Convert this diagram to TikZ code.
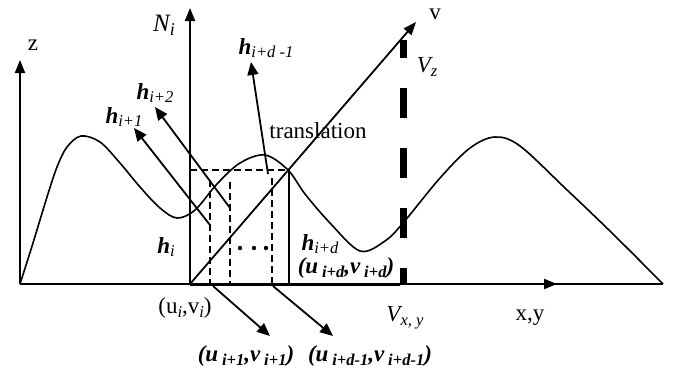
\documentclass[tikz,border=0pt]{standalone}
\usepackage{fontspec}
\usepackage{graphicx}
\setmainfont{Liberation Serif}
\usetikzlibrary{arrows.meta}
\newcommand{\lo}[1]{\raisebox{-0.35ex}{\scalebox{0.72}{#1}}}
\newcommand{\hv}[1]{{\bfseries\itshape h}\lo{\itshape #1}}
\newcommand{\bp}[2]{{\bfseries\itshape (u\,\lo{#1},v\,\lo{#2})}}
\begin{document}
\begin{tikzpicture}[x=1pt,y=-1pt,
  ax/.style={line width=2pt,-{Triangle[length=13pt,width=10pt]}},
  nv/.style={line width=1.8pt,-{Triangle[length=13pt,width=11pt]}},
  crv/.style={line width=1.6pt},
  dsh/.style={line width=1.8pt,dash pattern=on 7pt off 4pt},
  lab/.style={font=\fontsize{23}{26}\selectfont,inner sep=0pt},
  blab/.style={font=\fontsize{23}{26}\selectfont,inner sep=0pt}]
\useasboundingbox (0,0) rectangle (674,376);
% base points
\coordinate (O) at (20,284);
\coordinate (U) at (190,284);
\coordinate (E) at (663,284);
\coordinate (Xa) at (557,284);
\coordinate (Zt) at (20,60);
\coordinate (Nt) at (190,8);
\coordinate (Vt) at (416,22);
% baseline
\draw[line width=2pt] (O) -- (E);
\draw[line width=2pt,-{Triangle[length=13pt,width=10pt]}] (O) -- (Xa);
\draw[line width=3pt] (U) -- (400,284);
% axes
\draw[ax] (O) -- (Zt);
\draw[ax] (U) -- (Nt);
\draw[line width=1.8pt,-{Triangle[length=13pt,width=10pt]}] (U) -- (Vt);
% V_z thick dashed
\draw[line width=7pt,dash pattern=on 30pt off 30pt,dash phase=12pt] (403,40) -- (403,284);
% curve
\draw[crv] plot[smooth,tension=0.55] coordinates {(20,284) (33,243) (47,197) (57,167) (67,147) (81,136) (100,142) (120,163) (140,187) (160,208) (177,218) (195,210) (217,184) (240,163) (265,155) (288,170) (305,194) (330,223) (360,251) (385,241) (403,223) (440,178) (470,148) (495,137) (520,146) (565,188) (613,234) (663,284)};
% dashed construction
\draw[dsh] (190,170) -- (286,170);
\draw[dsh] (210,180) -- (210,284);
\draw[dsh] (230,182) -- (230,284);
\draw[dsh] (272,178) -- (272,284);
\foreach \px in {240,254,266} \fill (\px,248) circle (2.2pt);
% solid vertical at u_{i+d}
\draw[line width=2pt] (289,170) -- (289,284);
% normal vectors
\coordinate (b1) at (210,225); \coordinate (t1) at (134,128);
\coordinate (b2) at (230,208); \coordinate (t2) at (155,107);
\coordinate (b3) at (268,174); \coordinate (t3) at (251,62);
\draw[nv] (b1) -- (t1);
\draw[nv] (b2) -- (t2);
\draw[nv] (b3) -- (t3);
% lower arrows
\coordinate (c1) at (213,286); \coordinate (d1) at (270,336);
\coordinate (c2) at (273,286); \coordinate (d2) at (333,336);
\draw[nv] (c1) -- (d1);
\draw[nv] (c2) -- (d2);
% labels
\node[lab] (lz) at (33,45) {z};
\node[lab,font=\fontsize{25}{28}\selectfont] (lN) at (164,25) {\itshape N\lo{i}};
\node[blab] (lh3) at (266,48) {\hv{i+d -1}};
\node[blab] (lh2) at (155,93) {\hv{i+2}};
\node[blab] (lh1) at (124,117) {\hv{i+1}};
\node[lab] (ltr) at (318,131) {translation};
\node[lab] (lv) at (435,14) {v};
\node[lab] (lVz) at (427,67) {\itshape V\lo{z}};
\node[blab] (lhi) at (166,247) {\hv{i}};
\node[blab] (lhd) at (320,244) {\hv{i+d}};
\node[blab] (lud) at (346,268) {\bp{i+d}{i+d}};
\node[lab] (lui) at (185,308) {(u\lo{\itshape i},v\lo{\itshape i})};
\node[lab] (lVxy) at (405,318) {\itshape V\lo{x, y}};
\node[lab] (lxy) at (530,318) {x,y};
\node[blab] (lu1) at (246,356) {\bp{i+1}{i+1}};
\node[blab] (lu2) at (370,356) {\bp{i+d-1}{i+d-1}};
\end{tikzpicture}
\end{document}
